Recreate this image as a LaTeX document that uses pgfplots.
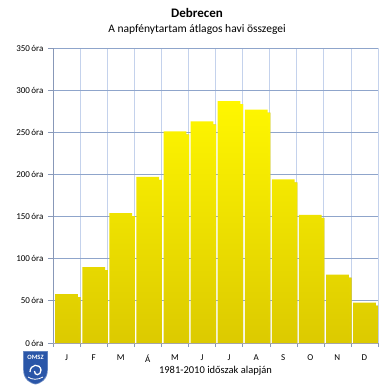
\documentclass[border=0pt]{standalone}
\usepackage{pgfplots}
\pgfplotsset{compat=1.18}
\usepackage{fontspec}
\setmainfont{Carlito}
\usetikzlibrary{shadows}
\definecolor{gridh}{HTML}{8FA5CB}
\definecolor{gridv}{HTML}{C4D2EC}
\definecolor{axisc}{HTML}{8898B8}
\definecolor{bartop}{HTML}{FFF700}
\definecolor{barbot}{HTML}{DCCA00}
\definecolor{omsz}{HTML}{2A56A8}
\begin{document}
\begin{tikzpicture}[x=1pt,y=1pt]
\useasboundingbox (0,0) rectangle (390,390);
\node[font=\bfseries\fontsize{13}{15}\selectfont] at (197,377) {Debrecen};
\node[font=\fontsize{11.5}{13}\selectfont] at (197,360) {A napfénytartam átlagos havi összegei};
\begin{axis}[
  at={(53pt,47pt)}, anchor=south west,
  scale only axis, width=325pt, height=295pt,
  xmin=-0.5, xmax=11.5, ymin=0, ymax=350,
  ybar, bar width=0.84,
  xtick={0,...,11},
  xticklabels={J,F,M,Á,M,J,J,A,S,O,N,D},
  minor xtick={-0.5,0.5,...,11.5},
  major x tick style={draw=none},
  minor x tick style={draw=axisc},
  minor tick length=4pt,
  xminorgrids=true,
  minor x grid style={gridv, line width=0.8pt},
  ytick={0,50,...,350},
  ymajorgrids=true,
  major y grid style={gridh, line width=0.9pt},
  y tick style={draw=axisc, line width=0.8pt},
  major tick length=5pt,
  tick align=outside,
  yticklabel={\pgfmathprintnumber{\tick}\,óra},
  /pgf/number format/assume math mode=true,
  tick label style={font=\fontsize{9}{10}\selectfont},
  xticklabel style={yshift=-3pt},
  yticklabel style={xshift=-1pt},
  axis x line*=bottom, axis y line*=left,
  x axis line style={draw=gray!70, line width=0.8pt, -},
  y axis line style={draw=axisc, line width=0.8pt, -},
  xlabel={1981-2010 időszak alapján},
  xlabel style={font=\fontsize{10.5}{12}\selectfont, yshift=3pt},
]
\addplot[draw=none, shade, top color=bartop, bottom color=barbot,
  drop shadow={shadow xshift=2.8pt, shadow yshift=-3pt, fill=gray!65, opacity=1}]
coordinates {
(0,58) (1,90) (2,154) (3,197) (4,251) (5,263)
(6,287) (7,277) (8,194) (9,152) (10,81) (11,48)
};
\end{axis}
% OMSZ logo
\begin{scope}[shift={(24,7)}]
\fill[omsz!70] (-0.8,31.8) -- (23.8,31.8) -- (23.8,13) .. controls (23.8,3) and (16,-0.8) .. (11.5,-1.5) .. controls (7,-0.8) and (-0.8,3) .. (-0.8,13) -- cycle;
\fill[omsz] (0,31) -- (23,31) -- (23,13) .. controls (23,4) and (16,0) .. (11.5,-0.7) .. controls (7,0) and (0,4) .. (0,13) -- cycle;
\node[white, font=\bfseries\fontsize{6.5}{7}\selectfont, inner sep=0] at (11.5,26) {OMSZ};
\draw[white, line width=1.3pt] (6,11) .. controls (6,19) and (16,20) .. (17,13) .. controls (17,7) and (10,7) .. (10.5,12);
\draw[white, line width=0.8pt] (4,6) .. controls (8,3) and (14,3) .. (19,6);
\end{scope}
\end{tikzpicture}
\end{document}
